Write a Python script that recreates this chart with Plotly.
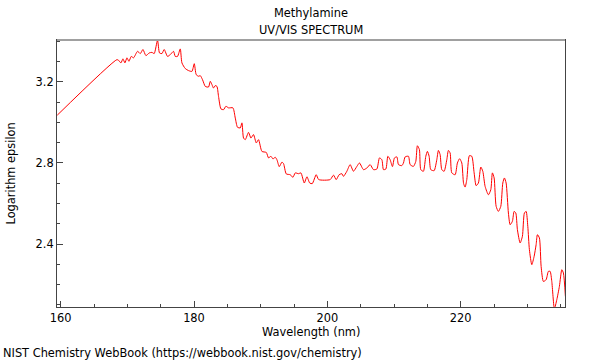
import plotly.graph_objects as go

wavelength = [159.49, 168.44, 168.68, 169.04, 169.34, 169.64, 169.94, 170.24, 170.59, 170.93,
              171.53, 171.94, 172.34, 172.79, 173.28, 173.69, 174.03, 174.53, 174.83, 175.19,
              175.53, 176.03, 176.44, 176.93, 177.19, 177.53, 177.94, 178.19, 178.69, 179.18,
              179.69, 180.04, 180.33, 180.68, 180.94, 181.28, 181.69, 182.18, 182.44, 182.69,
              182.93, 183.19, 183.44, 183.68, 184.04, 184.43, 184.79, 185.18, 185.84, 186.19,
              186.53, 186.94, 187.19, 187.43, 187.69, 188.18, 188.54, 188.93, 189.34, 189.68,
              190.19, 190.84, 191.18, 191.54, 191.84, 192.19, 192.44, 192.79, 193.19, 193.43,
              193.84, 194.44, 194.84, 195.19, 195.68, 196.04, 196.54, 196.94, 197.36, 197.74,
              198.33, 198.71, 200.43, 200.92, 201.33, 201.77, 202.18, 202.42, 202.93, 203.42,
              203.92, 204.43, 204.82, 205.42, 205.93, 206.42, 206.92, 207.43, 207.82, 208.18,
              208.42, 208.78, 209.08, 209.42, 209.77, 210.07, 210.43, 210.67, 211.18, 211.42,
              211.67, 212.17, 212.42, 212.91, 213.27, 213.51, 213.81, 214.02, 214.41, 214.77,
              215.01, 215.27, 215.52, 216.02, 216.42, 216.66, 216.92, 217.17, 217.52, 217.92,
              218.16, 218.42, 218.67, 219.17, 219.51, 219.84, 220.17, 220.44, 220.67, 220.92,
              221.31, 221.67, 222.02, 222.32, 222.66, 223.02, 223.32, 223.67, 224.16, 224.52,
              224.76, 225.02, 225.32, 225.66, 226.02, 226.32, 226.56, 226.82, 227.16, 227.42,
              227.76, 228.02, 228.27, 228.51, 228.92, 229.26, 229.56, 229.82, 230.07, 230.31,
              230.67, 231.02, 231.32, 231.51, 231.81, 232.07, 232.41, 232.82, 233.16, 233.42,
              233.67, 234.06, 234.42, 234.81, 235.17, 235.41, 235.71]

log_epsilon = [3.036, 3.310, 3.307, 3.294, 3.314, 3.294, 3.319, 3.302, 3.326, 3.319,
               3.351, 3.340, 3.360, 3.330, 3.343, 3.346, 3.340, 3.406, 3.343, 3.340,
               3.360, 3.326, 3.335, 3.351, 3.326, 3.326, 3.363, 3.294, 3.266, 3.256,
               3.252, 3.290, 3.236, 3.228, 3.231, 3.211, 3.178, 3.175, 3.203, 3.187,
               3.170, 3.182, 3.178, 3.129, 3.067, 3.063, 3.080, 3.072, 3.072, 3.022,
               2.976, 2.973, 2.998, 2.923, 2.915, 2.951, 2.923, 2.940, 2.899, 2.915,
               2.857, 2.852, 2.825, 2.833, 2.820, 2.828, 2.816, 2.782, 2.804, 2.797,
               2.746, 2.742, 2.729, 2.751, 2.747, 2.751, 2.701, 2.732, 2.701, 2.698,
               2.742, 2.718, 2.718, 2.740, 2.718, 2.742, 2.747, 2.734, 2.759, 2.792,
               2.759, 2.783, 2.800, 2.767, 2.775, 2.792, 2.767, 2.770, 2.825, 2.816,
               2.767, 2.770, 2.833, 2.816, 2.782, 2.825, 2.830, 2.792, 2.787, 2.800,
               2.830, 2.833, 2.792, 2.783, 2.808, 2.885, 2.866, 2.767, 2.759, 2.833,
               2.857, 2.833, 2.767, 2.762, 2.816, 2.862, 2.841, 2.767, 2.759, 2.816,
               2.862, 2.849, 2.751, 2.742, 2.800, 2.821, 2.800, 2.698, 2.681, 2.718,
               2.836, 2.833, 2.751, 2.688, 2.701, 2.780, 2.759, 2.684, 2.643, 2.668,
               2.751, 2.726, 2.586, 2.561, 2.586, 2.701, 2.726, 2.701, 2.553, 2.495,
               2.512, 2.561, 2.553, 2.471, 2.405, 2.438, 2.553, 2.561, 2.487, 2.372,
               2.298, 2.339, 2.397, 2.446, 2.430, 2.289, 2.215, 2.224, 2.265, 2.265,
               2.215, 2.080, 2.125, 2.191, 2.273, 2.257, 2.141]

x_ticks = [160, 180, 200, 220]
y_ticks = [2.4, 2.8, 3.2]

FONT = "DejaVu Sans"
FS = 11.4

fig = go.Figure()
fig.add_trace(go.Scatter(
    x=wavelength, y=log_epsilon, mode="lines",
    line=dict(color="#ff0000", width=1, shape="spline", smoothing=0.6),
    hoverinfo="x+y", showlegend=False,
))

fig.update_layout(
    width=600, height=360,
    margin=dict(l=57, r=35, t=40, b=53),
    paper_bgcolor="white", plot_bgcolor="white",
    font=dict(family=FONT, size=FS, color="#000000"),
    xaxis=dict(
        range=[159.45, 235.65], tickvals=x_ticks, ticktext=[str(v) for v in x_ticks],
        ticks="inside", ticklen=6, tickcolor="#444", tickwidth=1,
        minor=dict(dtick=5, tick0=160, ticks="inside", ticklen=3, tickcolor="#444"),
        showline=True, linecolor="#444", linewidth=1, mirror=True,
        showgrid=False, zeroline=False,
        tickfont=dict(family=FONT, size=FS),
    ),
    yaxis=dict(
        range=[2.089, 3.407], tickvals=y_ticks, ticktext=["2.4", "2.8", "3.2"],
        ticks="inside", ticklen=6, tickcolor="#444", tickwidth=1,
        minor=dict(dtick=0.1, tick0=2.0, ticks="inside", ticklen=3, tickcolor="#444"),
        showline=True, linecolor="#444", linewidth=1, mirror=True,
        showgrid=False, zeroline=False,
        tickfont=dict(family=FONT, size=FS),
    ),
    shapes=[dict(type="line", xref="paper", yref="paper", x0=0, x1=1, y0=1, y1=1,
                 line=dict(color="#a0a0a0", width=2))],
    annotations=[
        dict(text="Methylamine", xref="paper", yref="paper", x=0.5, y=1, yshift=27,
             showarrow=False, xanchor="center", yanchor="middle",
             font=dict(family=FONT, size=FS)),
        dict(text="UV/VIS SPECTRUM", xref="paper", yref="paper", x=0.5, y=1, yshift=10,
             showarrow=False, xanchor="center", yanchor="middle",
             font=dict(family=FONT, size=FS)),
        dict(text="Wavelength (nm)", xref="paper", yref="paper", x=0.5, y=0, yshift=-25,
             showarrow=False, xanchor="center", yanchor="middle",
             font=dict(family=FONT, size=FS)),
        dict(text="Logarithm epsilon", xref="paper", yref="paper", x=0, xshift=-47, y=0.5,
             textangle=-90, showarrow=False, xanchor="center", yanchor="middle",
             font=dict(family=FONT, size=FS)),
        dict(text="NIST Chemistry WebBook (https://webbook.nist.gov/chemistry)",
             xref="paper", yref="paper", x=0, xshift=-56, y=0, yshift=-46,
             showarrow=False, xanchor="left", yanchor="middle",
             font=dict(family=FONT, size=FS)),
    ],
)

fig.write_html("out.html", config={"displayModeBar": False},
               post_script="document.body.style.margin='0';document.body.style.padding='0';")
